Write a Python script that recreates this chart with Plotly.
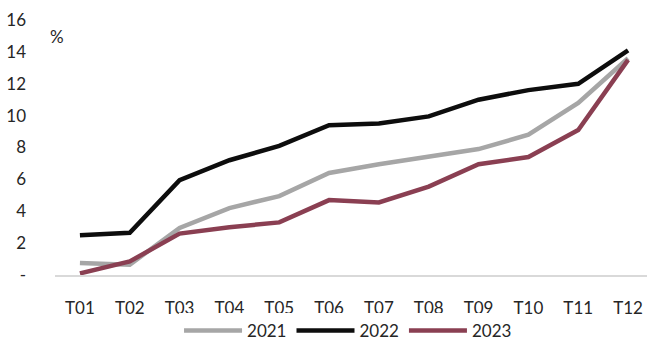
import plotly.graph_objects as go

months = ["T01", "T02", "T03", "T04", "T05", "T06", "T07", "T08", "T09", "T10", "T11", "T12"]
y2021 = [0.75, 0.65, 2.95, 4.2, 4.95, 6.4, 6.95, 7.45, 7.9, 8.8, 10.8, 13.6]
y2022 = [2.5, 2.65, 5.95, 7.2, 8.1, 9.4, 9.5, 9.95, 11.0, 11.6, 12.0, 14.1]
y2023 = [0.1, 0.85, 2.6, 3.0, 3.3, 4.7, 4.55, 5.55, 6.95, 7.4, 9.1, 13.5]
ytickvals = [0, 2, 4, 6, 8, 10, 12, 14, 16]
yticktext = ["-", "2", "4", "6", "8", "10", "12", "14", "16"]

FONT = "Lato"
fig = go.Figure()
for name, vals, color in [("2021", y2021, "#a6a6a6"), ("2022", y2022, "#0d0d0d"), ("2023", y2023, "#8a3f52")]:
    fig.add_trace(go.Scatter(x=months, y=vals, name=name, mode="lines",
                             line=dict(color=color, width=4.5)))

fig.update_layout(
    width=647, height=342,
    margin=dict(l=55, r=0, t=20, b=67, autoexpand=False),
    plot_bgcolor="white", paper_bgcolor="white",
    font=dict(family=FONT, size=17, color="#262626"),
    showlegend=True,
    legend=dict(orientation="h", x=0.495, xanchor="center", yref="container", y=0.032,
                yanchor="middle", font=dict(size=17, color="#262626"), itemwidth=58),
    xaxis=dict(range=[-0.5, 11.38], showgrid=False, showline=True, linecolor="#d9d9d9",
               linewidth=1.5, ticks="", ticklabelstandoff=17, zeroline=False),
    yaxis=dict(range=[0, 16], tickvals=ytickvals, ticktext=yticktext, showgrid=False,
               zeroline=False, showline=False, ticks="", ticklabelstandoff=28),
)
fig.add_annotation(text="%", xref="paper", yref="paper", x=0.0, y=0.985,
                   xanchor="left", yanchor="top", showarrow=False,
                   font=dict(size=17, color="#262626"), xshift=-7)
fig.write_html("out.html")
